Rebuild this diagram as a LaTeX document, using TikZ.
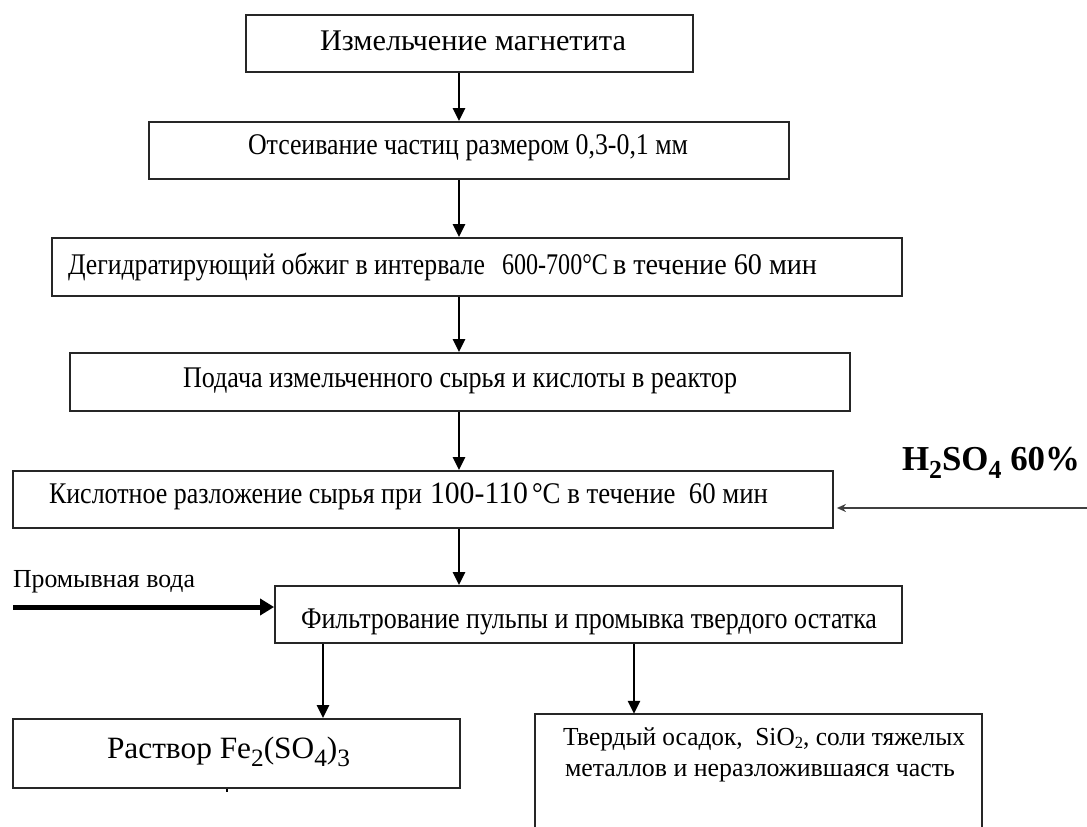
\documentclass[tikz,border=0pt]{standalone}
\usepackage{fontspec}
\setmainfont{Liberation Serif}
\usepackage{graphicx}
\usetikzlibrary{arrows.meta}
\newcommand\cw[2]{\resizebox{#1pt}{\height}{#2}}
\newcommand\fs[1]{\fontsize{#1}{#1}\selectfont}
\newcommand\lowr[3]{\raisebox{-#1pt}{\fontsize{#2}{#2}\selectfont #3}}
\begin{document}
\begin{tikzpicture}[x=1pt,y=-1pt,
  box/.style={draw=black!85, line width=1.8pt, inner sep=0pt},
  openbox/.style={inner sep=0pt},
  txt/.style={anchor=base west, inner sep=0pt, outer sep=0pt, text=black},
  flow/.style={line width=2.4pt, black, -{Triangle[length=13pt,width=12pt]}},
  wash/.style={line width=5pt, black, -{Triangle[length=14pt,width=16pt]}},
  feed/.style={line width=1.8pt, black!75, -{Stealth[length=9pt,width=8pt]}, shorten >=3pt}]
\useasboundingbox (0,0) rectangle (1087,827);

% boxes
\node[box, minimum width=447pt, minimum height=57pt] (b1) at (469.5,43.5) {};
\node[box, minimum width=640pt, minimum height=57pt] (b2) at (469,150.5) {};
\node[box, minimum width=850pt, minimum height=58pt] (b3) at (477,267) {};
\node[box, minimum width=780pt, minimum height=58pt] (b4) at (460,382) {};
\node[box, minimum width=820pt, minimum height=57pt] (b5) at (423,499.5) {};
\node[box, minimum width=627pt, minimum height=57pt] (b6) at (588.5,614.5) {};
\node[box, minimum width=447pt, minimum height=69pt] (b7) at (236.5,753.5) {};
\node[openbox, minimum width=447pt, minimum height=113pt] (b8) at (758.5,770.5) {};
\draw[draw=black!85, line width=1.8pt] (b8.south west) -- (b8.north west) -- (b8.north east) -- (b8.south east);

% texts
\node[txt] (t1) at (320,50) {\fs{30}\cw{306}{Измельчение магнетита}};
\node[txt] (t2) at (248,154) {\fs{30}\cw{440}{Отсеивание частиц размером 0,3-0,1 мм}};
\node[txt] (t3) at (68,274) {\fs{30}\cw{417}{Дегидратирующий обжиг в интервале}\hspace{17pt}\fs{30}\cw{106}{600-700°С}\hspace{5pt}\fs{30}\cw{204}{в течение 60 мин}};
\node[txt] (t4) at (183,387) {\fs{30}\cw{554}{Подача измельченного сырья и кислоты в реактор}};
\node[txt] (t5) at (49,503) {\fs{30}\cw{373}{Кислотное разложение сырья при}\hspace{8pt}\fs{31}\cw{98}{100-110}\hspace{4pt}\fs{30}\cw{236}{°С в течение\ \ 60 мин}};
\node[txt] (t6) at (301,628) {\fs{30}\cw{576}{Фильтрование пульпы и промывка твердого остатка}};
\node[txt] (t7) at (107,758) {\fs{31}\cw{243}{Раствор Fe\lowr{8}{25}{2}(SO\lowr{8}{25}{4})\lowr{8}{25}{3}}};
\node[txt] (t8a) at (563,745) {\fs{26}\cw{402}{Твердый осадок,\ \ SiO\lowr{3}{17}{2}, соли тяжелых}};
\node[txt] (t8b) at (565,776) {\fs{26}\cw{390}{металлов и неразложившаяся часть}};
\node[txt] (tw) at (13,587) {\fs{26}\cw{182}{Промывная вода}};
\node[txt] (th) at (902,470) {\fs{35}\bfseries\cw{178}{H\lowr{8}{26}{2}SO\lowr{8}{26}{4} 60\%}};

% connector coordinates
\coordinate (ax) at (459,0);
\coordinate (al) at (323,0);
\coordinate (ar) at (634,0);
\coordinate (tk) at (227,0);
\coordinate (hin) at (1087,508);
\coordinate (win) at (13,607);

% connectors
\draw[flow] (b1.south -| ax) -- (b2.north -| ax);
\draw[flow] (b2.south -| ax) -- (b3.north -| ax);
\draw[flow] (b3.south -| ax) -- (b4.north -| ax);
\draw[flow] (b4.south -| ax) -- (b5.north -| ax);
\draw[flow] (b5.south -| ax) -- (b6.north -| ax);
\draw[flow] (b6.south -| al) -- (b7.north -| al);
\draw[flow] (b6.south -| ar) -- (b8.north -| ar);
\draw[wash] (win) -- (b6.west |- win);
\draw[feed] (hin) -- (b5.east |- hin);
\draw[line width=1.5pt] (b7.south -| tk) -- ++(0,3);
\end{tikzpicture}
\end{document}
